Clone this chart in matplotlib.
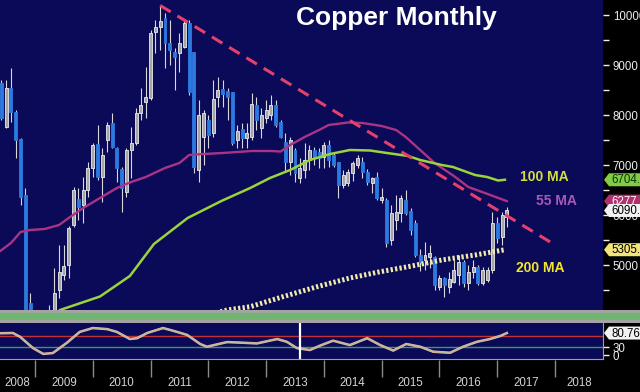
import numpy as np
import matplotlib.pyplot as plt
from matplotlib.patches import Polygon
from matplotlib.transforms import IdentityTransform

plt.rcParams['font.family'] = ['Liberation Sans', 'DejaVu Sans']

# monthly candles, first bar = May 2008 (month index = months since Jan 2008)
first_month = 4
opens = [8640, 7760, 8540, 8060, 7520, 6400, 4240, 3000, 2900, 3200, 3400, 4000,
         4500, 4800, 5000, 5800, 6320, 6200, 6500, 6940, 7420, 6760, 7500, 7840,
         7340, 6920, 6460, 7300, 7440, 8040, 8260, 8340, 9660, 9760, 9940, 9440,
         9260, 9240, 9360, 9840, 9260, 6900, 7560, 7900, 7640, 8360, 8520, 8480,
         8460, 7500, 7720, 7540, 7560, 8200, 7740, 7940, 8000, 8200, 7860, 7460,
         7060, 7300, 6740, 6900, 7100, 7300, 7260, 7160, 7400, 7200, 7060, 6600,
         6640, 6840, 7000, 7060, 6860, 6640, 6760, 6300, 6300, 5500, 5900, 6040,
         6300, 6080, 5840, 5200, 5100, 5160, 5160, 4560, 4740, 4560, 4660, 4800,
         5060, 4640, 4860, 4960, 4640, 4700, 4900, 5840, 5560, 5960]
highs = [8700, 8700, 8940, 8100, 7550, 6540, 4440, 3200, 3500, 3800, 4200, 4950,
         5400, 5400, 5780, 6560, 6540, 6760, 7060, 7440, 7800, 7340, 7860, 8040,
         7360, 6960, 7340, 7760, 8140, 8540, 8960, 9700, 9900, 10190, 10040, 9900,
         9340, 9640, 9900, 9900, 9260, 8300, 8100, 8000, 8700, 8760, 8700, 8540,
         8460, 7800, 7840, 7840, 8440, 8370, 8140, 8300, 8400, 8300, 7900, 7640,
         7560, 7340, 7140, 7440, 7400, 7360, 7340, 7460, 7500, 7260, 7060, 6900,
         6920, 7080, 7200, 7160, 6920, 6760, 6860, 6540, 6340, 6200, 6400, 6400,
         6500, 6140, 5900, 5320, 5460, 5400, 5180, 4800, 4760, 4860, 5100, 5200,
         5100, 5000, 5100, 5000, 4960, 4960, 6060, 5960, 6060, 6160]
lows = [7900, 7740, 7860, 7140, 6200, 3700, 3500, 2800, 2800, 3100, 3300, 3950,
        4340, 4700, 4740, 5760, 5900, 5840, 6360, 6760, 6700, 6260, 7260, 7340,
        6660, 6060, 6360, 6740, 7400, 7900, 7940, 8300, 9240, 9300, 8940, 9000,
        8500, 8860, 9340, 8400, 6840, 6660, 7000, 7340, 7560, 8160, 8160, 7900,
        7400, 7340, 7340, 7340, 7500, 7700, 7540, 7840, 7900, 7760, 7540, 6860,
        6800, 6660, 6640, 6740, 6900, 7000, 6940, 6940, 6960, 6960, 6340, 6540,
        6580, 6680, 6940, 6740, 6600, 6440, 6300, 6240, 5360, 5400, 5700, 5860,
        6000, 5600, 5160, 4880, 4900, 4940, 4500, 4500, 4360, 4440, 4640, 4600,
        4560, 4500, 4740, 4600, 4600, 4660, 4840, 5440, 5400, 5760]
closes = [7940, 8540, 8060, 7500, 6360, 3900, 3600, 2900, 3200, 3400, 4000, 4450,
          4860, 4980, 5740, 6500, 6160, 6500, 6940, 7400, 6760, 7200, 7800, 7360,
          6940, 6540, 7300, 7440, 8040, 8200, 8360, 9640, 9760, 9880, 9440, 9300,
          9160, 9440, 9840, 8460, 6960, 8000, 8040, 7600, 8320, 8500, 8420, 8360,
          7440, 7680, 7540, 7640, 8220, 7900, 8000, 8100, 8200, 7800, 7560, 7060,
          7500, 6840, 6940, 7100, 7300, 7160, 7140, 7400, 7100, 7000, 6600, 6800,
          6860, 7040, 7140, 6860, 6660, 6740, 6340, 6360, 5440, 6040, 6060, 6340,
          6040, 5700, 5200, 5060, 5200, 5240, 4600, 4740, 4600, 4720, 4900, 5060,
          4640, 4860, 4960, 4640, 4900, 4900, 5840, 5540, 6000, 6090.5]

# moving averages
ma55_month = [3.5, 6, 8, 10, 13, 16, 18, 21, 24.5, 28, 31, 34, 38, 41, 43, 46, 50, 56,
              60, 62, 64, 67, 70, 72, 76, 79, 83, 86, 88, 91, 94, 98, 101, 105, 109]
ma55 = [5260, 5440, 5660, 5700, 5720, 5800, 5940, 6140, 6340, 6540, 6660, 6760, 6940,
        7040, 7200, 7220, 7240, 7280, 7280, 7270, 7400, 7560, 7700, 7800, 7850, 7840,
        7780, 7700, 7560, 7300, 7040, 6780, 6560, 6420, 6277.0]
ma100_month = [14, 16.2, 24.5, 30.7, 35.7, 42.7, 49.7, 55.7, 59.8, 64, 68.1, 72.3,
               76.4, 80.6, 84.1, 88.5, 91, 95.5, 97.8, 102.4, 104.9, 107.2, 108.6]
ma100 = [3900, 4100, 4370, 4780, 5420, 5940, 6280, 6540, 6740, 6900, 7100, 7220,
         7300, 7290, 7240, 7180, 7100, 7000, 6960, 6800, 6760, 6690, 6704.5]
ma200_month = [45, 50.9, 55.7, 62.5, 69.6, 76.4, 82.7, 88.5, 95.5, 102.4, 108.6]
ma200 = [3950, 4100, 4166, 4366, 4566, 4740, 4866, 4966, 5100, 5200, 5305.5]

trend_month = [37, 118]
trend_price = [10190, 5460]

# oscillator in the lower panel
osc_month = [3.7, 6.4, 7.9, 10.6, 12.7, 14.7, 17.6, 20.3, 23, 26, 28, 30.7, 32.2, 34.3,
             37.6, 39.7, 42.6, 45.3, 46.7, 50.9, 53.6, 57.1, 61.3, 63.3, 65.4, 68.1,
             70.2, 72.9, 76.4, 80, 82.7, 85.4, 88.1, 91, 93.7, 97.2, 99.9, 102.8,
             105.5, 107.6, 109]
osc = [80, 81, 67, 26, 5, 8, 45, 85, 99, 95, 85, 59, 62, 81, 99, 89, 74, 41, 31, 48,
       46, 43, 59, 49, 26, 19, 35, 53, 37, 62, 37, 17, 41, 31, 13, 9, 31, 49, 59, 70,
       80.76]
osc_upper, osc_lower = 70, 30
cursor_month = 66

years = list(range(2008, 2019))

NAVY = '#0a0a58'
W, H = 640, 392
XLIM = (4.73, 129.97)

fig = plt.figure(figsize=(6.4, 3.92), dpi=100, facecolor='black')

# ---- main price panel
ax = fig.add_axes([0, 82 / H, 603 / W, 310 / H], facecolor=NAVY)
ax.set_xlim(*XLIM)
ax.set_ylim(4100, 10300)

o = np.array(opens, float)
c = np.array(closes, float)
hi = np.array(highs, float)
lo = np.array(lows, float)
x = np.arange(first_month, first_month + len(opens)) + 1
up = c >= o

ax.vlines(x, lo, hi, color='#d8d8d8', lw=0.8, zorder=2)
ax.bar(x[up], (c - o)[up], bottom=o[up], width=0.62, color='#a6a6a6',
       edgecolor='#ececec', lw=0.6, zorder=3)
ax.bar(x[~up], (o - c)[~up], bottom=c[~up], width=0.62, color='#2c7ae0',
       edgecolor='#2c7ae0', lw=0.6, zorder=3)

ax.plot(np.array(ma55_month) + 1, ma55, color='#aa3384', lw=1.7, zorder=4)
ax.plot(np.array(ma100_month) + 1, ma100, color='#9ad43a', lw=1.8, zorder=4)
ax.plot(np.array(ma200_month) + 1, ma200, color='#f2ecaa', lw=3.6,
        linestyle=(0, (0.45, 0.45)), dash_capstyle='butt', zorder=4)
ax.plot(np.array(trend_month) + 1, trend_price, color='#e4406c', lw=2.2,
        linestyle=(0, (4, 2.6)), zorder=5)

ax.text(0.657, 0.942, 'Copper Monthly', transform=ax.transAxes, ha='center',
        va='center', color='white', fontsize=19, fontweight='bold')
ax.text(117.7, 6760, '100 MA', color='#d2e03a', fontsize=10, fontweight='bold',
        ha='center', va='center')
ax.text(120.4, 6280, '55 MA', color='#a958b8', fontsize=10, fontweight='bold',
        ha='center', va='center')
ax.text(116.9, 4940, '200 MA', color='#f2e531', fontsize=10, fontweight='bold',
        ha='center', va='center')

ax.set_xticks([])
ax.yaxis.tick_right()
ax.set_yticks(np.arange(5000, 10001, 1000))
ax.set_yticks(np.arange(4500, 10000, 1000), minor=True)
ax.tick_params(axis='y', which='both', direction='out', colors='#eeeeee',
               labelsize=8.3, length=4, width=1, pad=3)
for s in ax.spines.values():
    s.set_visible(False)

# ---- separator band
axb = fig.add_axes([0, 69 / H, 1, 13 / H])
axb.set_xlim(0, 1)
axb.set_ylim(0, 13)
axb.axhspan(10, 13, color='#a4a4a4')
axb.axhspan(3, 10, color='#72b472')
axb.axhspan(0, 3, color='#a4a4a4')
axb.axis('off')

# ---- oscillator panel
ax2 = fig.add_axes([0, 33 / H, 603 / W, 36 / H], facecolor=NAVY)
ax2.set_xlim(*XLIM)
ax2.set_ylim(-13.6, 117.3)
ax2.axhline(osc_upper, color='#c03238', lw=1)
ax2.axhline(osc_lower, color='#3c9a60', lw=1)
om = np.array(osc_month) + 1
ax2.plot(om, osc, color='#d9c8b0', lw=1.8, solid_joinstyle='round')
ax2.plot(om, osc, color='#f08a8a', lw=0.9, solid_joinstyle='round')
ax2.plot(om, osc, color='#a8d0a0', lw=0.5, solid_joinstyle='round')
ax2.axvline(cursor_month + 1, color='white', lw=1.6)
ax2.set_xticks([])
ax2.yaxis.tick_right()
ax2.set_yticks([0, 30])
ax2.tick_params(axis='y', direction='out', colors='#eeeeee', labelsize=8.3,
                length=4, width=1, pad=3)
for k, s in ax2.spines.items():
    s.set_visible(k in ('bottom', 'right'))
    s.set_color('#a0a0a0')

# ---- time axis
ax3 = fig.add_axes([0, 0, 603 / W, 32 / H], facecolor='black')
ax3.set_xlim(*XLIM)
ax3.set_ylim(0, 1)
seps = [12 * (y - 2008) for y in years[1:]]
ax3.vlines(seps, 0.47, 1.0, color='#8a8a8a', lw=1)
for y in years:
    a = max(12 * (y - 2008), XLIM[0])
    b = min(12 * (y - 2007), XLIM[1])
    ax3.text((a + b) / 2, 0.28, str(y), ha='center', va='center',
             color='#d4d4d4', fontsize=8.3)
ax3.axis('off')


# ---- last value tags on the right axis
def add_tag(axis, value, fc, tc, z):
    x0 = axis.transAxes.transform((1, 0))[0]
    y0 = axis.transData.transform((0, value))[1]
    h = 6.5
    verts = [(x0 + 1, y0), (x0 + 6, y0 + h), (x0 + 50, y0 + h),
             (x0 + 50, y0 - h), (x0 + 6, y0 - h)]
    fig.add_artist(Polygon(verts, closed=True, facecolor=fc, edgecolor='none',
                           transform=IdentityTransform(), zorder=z))
    fig.text(x0 + 8, y0 - 0.5, f'{value:.2f}', transform=IdentityTransform(),
             ha='left', va='center', color=tc, fontsize=8.3, zorder=z + 0.5)


add_tag(ax, ma100[-1], '#80cc44', '#10300a', 5)
add_tag(ax, ma55[-1], '#b0306e', 'white', 6)
add_tag(ax, closes[-1], '#f2f2f2', 'black', 7)
add_tag(ax, ma200[-1], '#f0e47a', 'black', 8)
add_tag(ax2, osc[-1], '#f2f2f2', 'black', 9)

fig.savefig('out.png', dpi=100, facecolor='black')
